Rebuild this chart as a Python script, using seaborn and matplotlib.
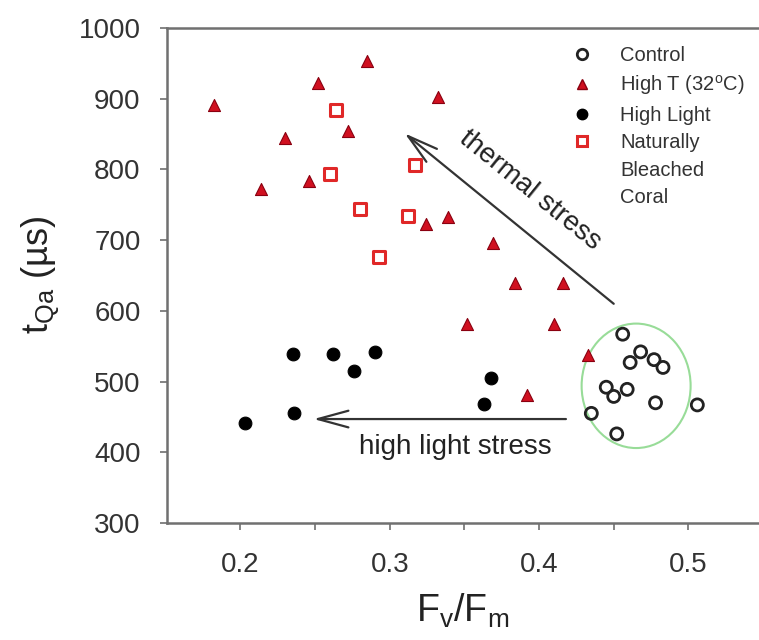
import numpy as np
import pandas as pd
import seaborn as sns
import matplotlib.pyplot as plt
from matplotlib.lines import Line2D
from matplotlib.patches import Ellipse
from matplotlib.ticker import MultipleLocator

# Fv/Fm and tQa values
control_fvfm = [0.456, 0.468, 0.461, 0.477, 0.483, 0.445, 0.459, 0.450, 0.478, 0.506, 0.435, 0.452]
control_tqa = [567, 542, 527, 531, 520, 492, 489, 479, 470, 467, 455, 426]

hight_fvfm = [0.182, 0.252, 0.285, 0.332, 0.272, 0.230, 0.214, 0.246, 0.324, 0.339,
              0.369, 0.384, 0.416, 0.352, 0.410, 0.433, 0.392]
hight_tqa = [891, 922, 954, 903, 855, 845, 773, 784, 723, 733,
             696, 640, 640, 581, 581, 538, 481]

highlight_fvfm = [0.235, 0.262, 0.290, 0.276, 0.236, 0.203, 0.368, 0.363]
highlight_tqa = [539, 539, 542, 515, 456, 442, 505, 468]

bleached_fvfm = [0.264, 0.317, 0.260, 0.280, 0.312, 0.293]
bleached_tqa = [884, 806, 794, 744, 734, 676]

sns.set_style('ticks')
plt.rcParams['font.family'] = ['Liberation Sans', 'DejaVu Sans']
plt.rcParams['mathtext.default'] = 'regular'

df = pd.concat([
    pd.DataFrame({'fvfm': control_fvfm, 'tqa': control_tqa, 'group': 'Control'}),
    pd.DataFrame({'fvfm': hight_fvfm, 'tqa': hight_tqa, 'group': 'High T'}),
    pd.DataFrame({'fvfm': highlight_fvfm, 'tqa': highlight_tqa, 'group': 'High Light'}),
    pd.DataFrame({'fvfm': bleached_fvfm, 'tqa': bleached_tqa, 'group': 'Bleached'}),
])

red = '#d01020'
fig = plt.figure(figsize=(7.59, 6.4), dpi=100)
ax = fig.add_axes([167 / 759, 1 - 523 / 640, (759 - 167) / 759, (523 - 28) / 640])

# green ellipse round the control group
ax.add_patch(Ellipse((0.465, 494), 0.073, 176, fill=False, edgecolor='#98dc98', lw=1.5, zorder=1))

sns.scatterplot(data=df[df.group == 'High T'], x='fvfm', y='tqa', marker='^', s=75,
                color=red, edgecolor='#8a0010', linewidth=0.8, ax=ax, zorder=3)
sns.scatterplot(data=df[df.group == 'Bleached'], x='fvfm', y='tqa', marker='s', s=70,
                facecolor='white', edgecolor='#e02828', linewidth=2.2, ax=ax, zorder=3)
sns.scatterplot(data=df[df.group == 'High Light'], x='fvfm', y='tqa', marker='o', s=85,
                color='black', edgecolor='black', ax=ax, zorder=3)
sns.scatterplot(data=df[df.group == 'Control'], x='fvfm', y='tqa', marker='o', s=75,
                facecolor='none', edgecolor='#222222', linewidth=2.0, ax=ax, zorder=3)

# arrows and their notes
arrow_kw = dict(arrowstyle='->,head_length=1.1,head_width=0.3', color='#333333', lw=1.6,
                mutation_scale=20, shrinkA=0, shrinkB=0)
ax.annotate('', xy=(0.310, 851), xytext=(0.450, 610), arrowprops=arrow_kw)
ax.annotate('', xy=(0.249, 447), xytext=(0.418, 447), arrowprops=arrow_kw)
ax.text(0.394, 771, 'thermal stress', rotation=-39, rotation_mode='anchor',
        ha='center', va='center', fontsize=20, color='#222222')
ax.text(0.344, 407, 'high light stress', ha='center', va='center', fontsize=20, color='#222222')

ax.set_xlim(0.1508, 0.5473)
ax.set_ylim(300, 1000)
ax.xaxis.set_minor_locator(MultipleLocator(0.05))
ax.yaxis.set_major_locator(MultipleLocator(100))
ax.set_xticks([0.2, 0.3, 0.4, 0.5])
ax.set_xticklabels(['0.2', '0.3', '0.4', '0.5'])
ax.tick_params(which='both', direction='out', length=5, width=1.2, color='#707070',
               labelsize=20, labelcolor='#333333')
ax.tick_params(axis='x', pad=16)
ax.tick_params(axis='y', pad=14)

for side in ['left', 'bottom', 'top']:
    ax.spines[side].set_color('#707070')
    ax.spines[side].set_linewidth(1.8)
ax.spines['right'].set_visible(False)

ax.set_xlabel('F$_v$/F$_m$', fontsize=27, color='#222222', labelpad=10)
ax.set_ylabel('t$_{Qa}$ (µs)', fontsize=26, color='#222222', labelpad=12)

handles = [
    Line2D([], [], ls='', marker='o', mfc='none', mec='#222222', mew=2, ms=7.5),
    Line2D([], [], ls='', marker='^', color=red, mec='#8a0010', ms=7.5),
    Line2D([], [], ls='', marker='o', color='black', ms=7.5),
    Line2D([], [], ls='', marker='s', mfc='white', mec='#e02828', mew=2.2, ms=7),
    Line2D([], [], ls='', marker=''),
    Line2D([], [], ls='', marker=''),
]
labels = ['Control', 'High T (32$^o$C)', 'High Light', 'Naturally', 'Bleached', 'Coral']
leg = ax.legend(handles, labels, loc='upper left',
                bbox_to_anchor=((566 - 167) / 592, 1 - (42 - 28) / 495),
                frameon=False, fontsize=14.5, handlelength=1.2, handletextpad=1.3,
                labelspacing=0.42, borderpad=0.2, borderaxespad=0)
for t in leg.get_texts():
    t.set_color('#333333')

fig.savefig('out.png', dpi=100)
